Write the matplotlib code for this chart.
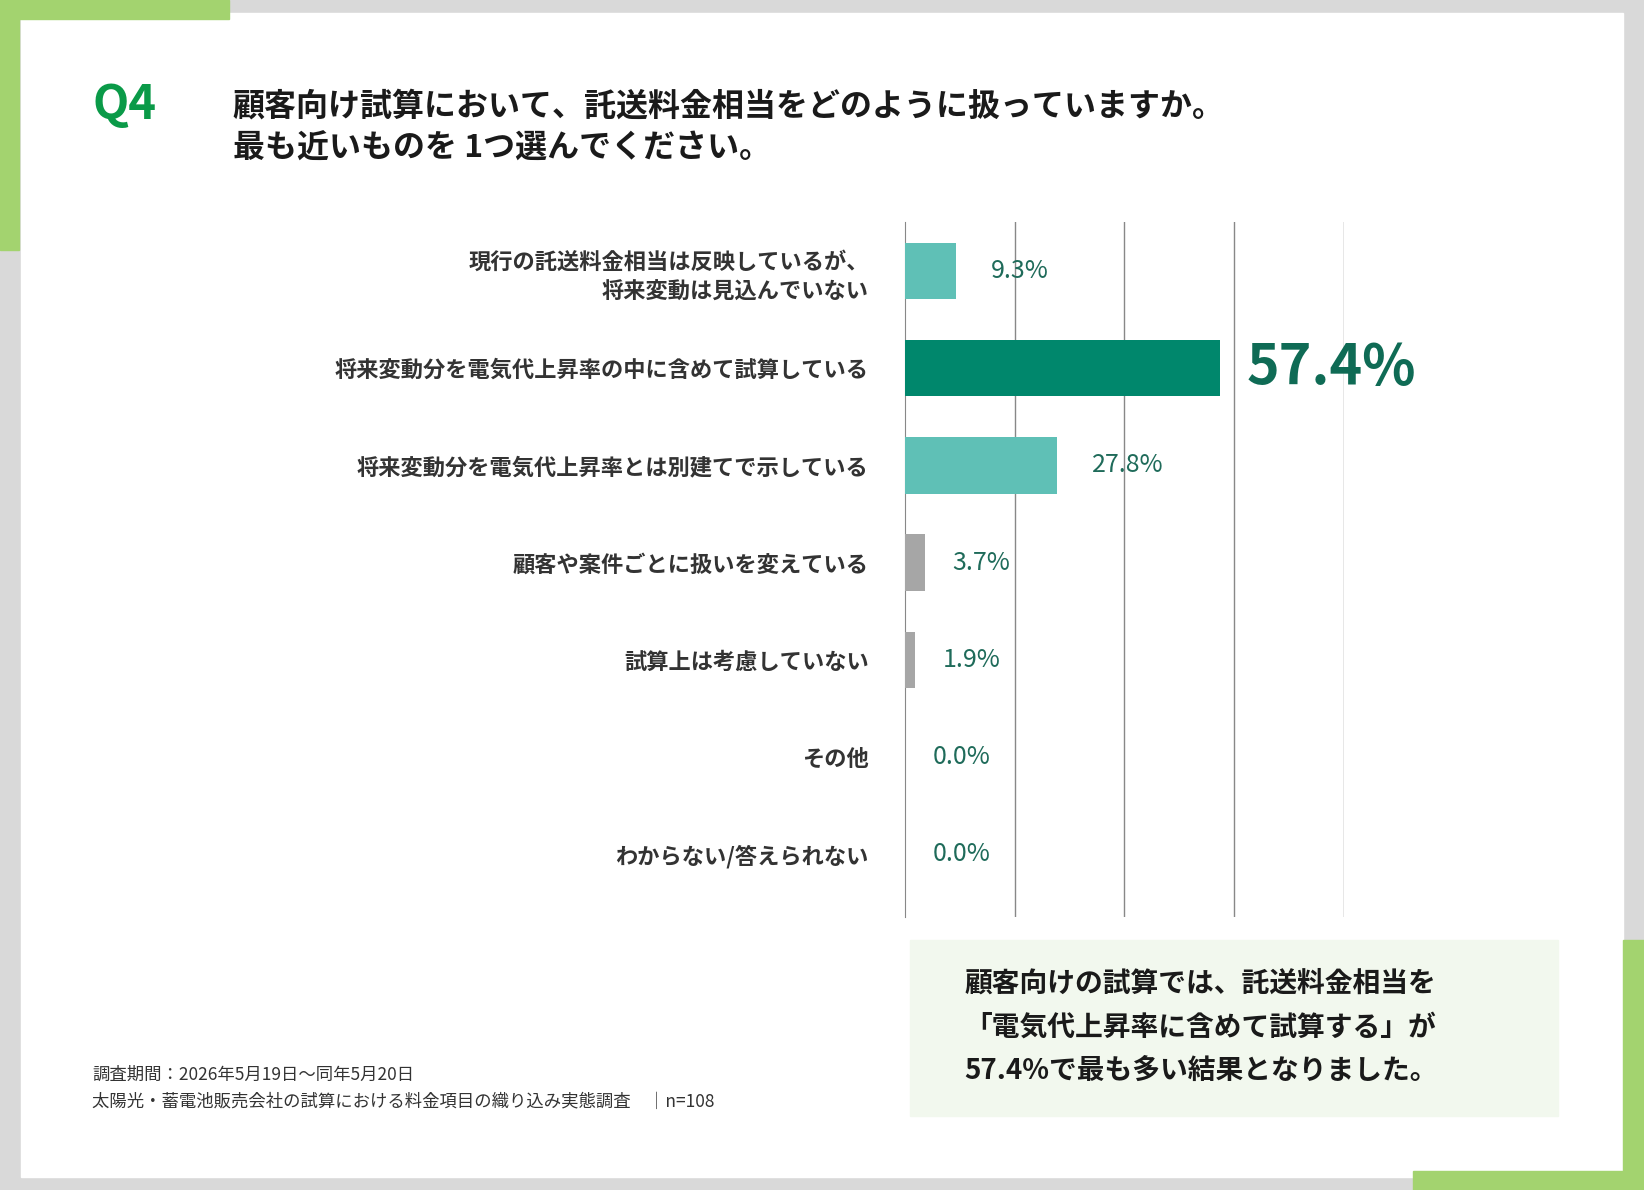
import matplotlib
matplotlib.use("Agg")
import matplotlib.pyplot as plt
from matplotlib.patches import Rectangle

plt.rcParams['font.family'] = ['Noto Sans CJK JP', 'DejaVu Sans']

categories = ["現行の託送料金相当は反映しているが、\n将来変動は見込んでいない",
              "将来変動分を電気代上昇率の中に含めて試算している",
              "将来変動分を電気代上昇率とは別建てで示している",
              "顧客や案件ごとに扱いを変えている",
              "試算上は考慮していない",
              "その他",
              "わからない/答えられない"]
values = [9.3, 57.4, 27.8, 3.7, 1.9, 0.0, 0.0]
colors = ["#5fc0b6", "#00876c", "#5fc0b6", "#a6a6a6", "#a6a6a6", "#a6a6a6", "#a6a6a6"]

W, H = 1568, 1135
fig = plt.figure(figsize=(16.44, 11.90), dpi=100)
fig.patch.set_facecolor("#d9d9d9")

def rect(x0, y0, x1, y1, c):
    fig.patches.append(Rectangle((x0/W, 1-y1/H), (x1-x0)/W, (y1-y0)/H,
                                 transform=fig.transFigure, color=c, zorder=-10))

rect(20, 12, 1548, 1123, "white")
green = "#a3d36f"
rect(0, 0, 218, 18, green); rect(0, 0, 18, 238, green)
rect(1548, 897, 1568, 1135, green); rect(1348, 1117, 1568, 1135, green)
rect(868, 897, 1486, 1064, "#f2f8ee")

fig.text(88/W, 1-100/H, "Q4", fontsize=34, fontweight="bold", color="#0a9a48", va="center")
fig.text(222/W, 1-122/H, "顧客向け試算において、託送料金相当をどのように扱っていますか。\n最も近いものを 1つ選んでください。",
         fontsize=23, fontweight="bold", color="#1a1a1a", va="center", linespacing=1.4)
fig.text(920/W, 1-980/H, "顧客向けの試算では、託送料金相当を\n「電気代上昇率に含めて試算する」が\n57.4%で最も多い結果となりました。",
         fontsize=20, fontweight="bold", color="#1a1a1a", va="center", linespacing=1.7)
fig.text(88/W, 1-1038/H, "調査期間：2026年5月19日～同年5月20日\n太陽光・蓄電池販売会社の試算における料金項目の織り込み実態調査　│n=108",
         fontsize=12.5, color="#333333", va="center", linespacing=1.6)

ax = fig.add_axes([863/W, 1-875/H, (1282-863)/W, (875-212)/H])
ax.set_zorder(5)
ax.set_facecolor("none")
y = list(range(len(values)))
ax.barh(y, values, height=0.58, color=colors, zorder=3)
ax.set_xlim(0, 80)
ax.set_ylim(len(values)-0.5+0.15, -0.5)
ax.set_xticks([20, 40, 60, 80])
ax.grid(axis="x", color="#888888", linewidth=1)
ax.set_axisbelow(True)
ax.set_xticklabels([])
ax.tick_params(length=0)
for s in ["top", "right", "bottom"]:
    ax.spines[s].set_visible(False)
ax.spines["left"].set_color("#888888")
ax.set_yticks(y)
ax.set_yticklabels(categories, fontsize=16, fontweight="bold", color="#333333", linespacing=1.4)
ax.tick_params(axis="y", pad=26)
for i, v in enumerate(values):
    if i == 1:
        ax.text(v + 4.8, i, f"{v:.1f}%", fontsize=40, fontweight="bold", color="#0f6b55",
                va="center", clip_on=False)
    else:
        ax.text(v + 6.3 - (1.3 if v < 5 else 0), i, f"{v:.1f}%", fontsize=18, color="#1f6b5a",
                va="center", clip_on=False)

fig.savefig("out.png", dpi=100, facecolor=fig.get_facecolor())
